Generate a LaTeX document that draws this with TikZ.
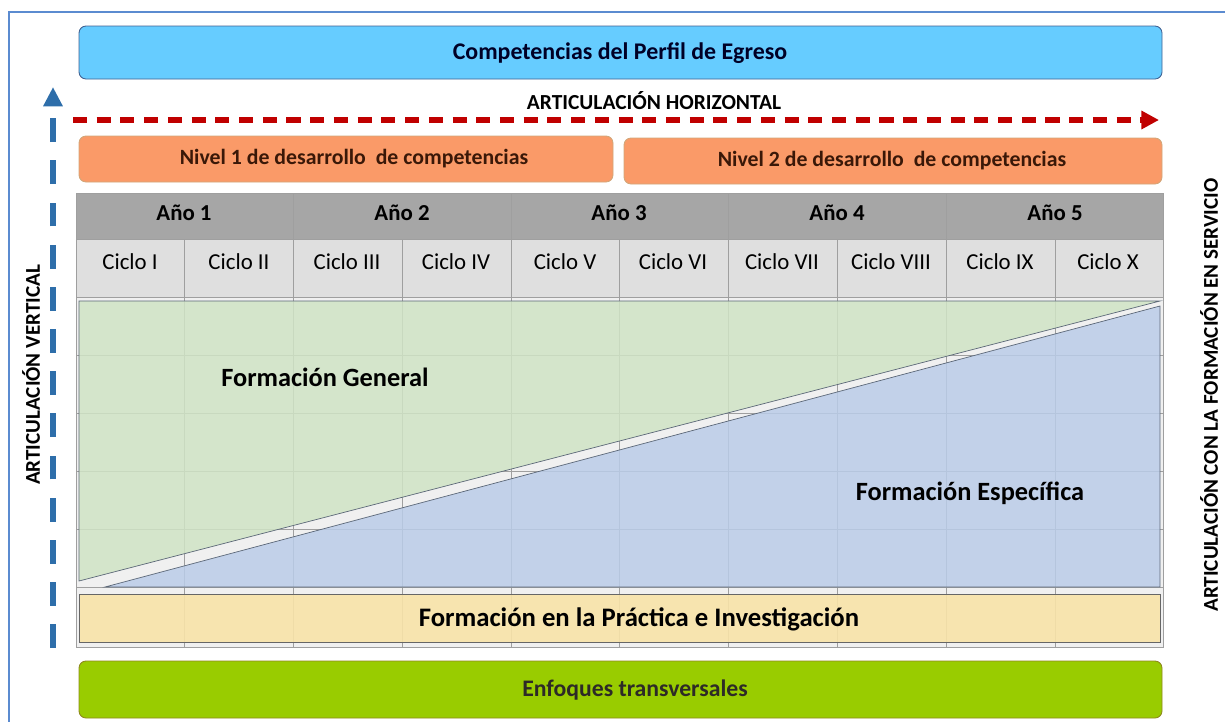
\documentclass[tikz,border=0pt]{standalone}
\usepackage{fontspec}
\setmainfont{Carlito}
\usetikzlibrary{arrows.meta}
\definecolor{marco}{HTML}{5B8BD0}
\definecolor{celeste}{HTML}{66CCFF}
\definecolor{naranja}{HTML}{FA9A68}
\definecolor{lima}{HTML}{99CC00}
\definecolor{verdeclaro}{HTML}{D0E4C5}
\definecolor{azulclaro}{HTML}{BACCE8}
\definecolor{amarillo}{HTML}{F8E3A8}
\definecolor{rojo}{HTML}{C00000}
\definecolor{azulflecha}{HTML}{2E6EAA}
\definecolor{marron}{HTML}{3A1808}
\definecolor{borde}{HTML}{5C6878}
\begin{document}
\begin{tikzpicture}[x=0.02cm,y=-0.02cm,
    caja/.style={rounded corners=4pt,line width=0.5pt},
    rejilla/.style={draw=gray!75,line width=0.4pt},
    titulo/.style={font=\fontsize{12.4}{14}\selectfont\bfseries},
    anio/.style={font=\fontsize{13}{15}\selectfont\bfseries},
    ciclo/.style={font=\fontsize{13}{15}\selectfont},
    grande/.style={font=\fontsize{15}{18}\selectfont\bfseries},
    lateral/.style={font=\fontsize{12}{14}\selectfont\bfseries,rotate=90}]

                \useasboundingbox (0,0) rectangle (1225,721);
                \draw[marco,line width=0.8pt] (9,740) -- (9,12) -- (1240,12);

                \draw[caja,fill=celeste,draw=marco!70!black] (79,26) rectangle (1162,79);
                \node[font=\fontsize{13.6}{16}\selectfont\bfseries,text=black!85!blue] (perfil) at (620,53) {Competencias del Perfil de Egreso};

                \coordinate (hIni) at (73,120);
                \coordinate (hFin) at (1159,120);
                \draw[rojo,line width=3.2pt,dash pattern=on 8pt off 5.5pt,
                  -{Triangle[length=10pt,width=10pt]}] (hIni) -- (hFin);
                \node[font=\fontsize{12.2}{14}\selectfont\bfseries] (horiz) at (654,101) {ARTICULACIÓN HORIZONTAL};

                \draw[caja,fill=naranja,draw=brown!70] (79,136) rectangle (613,182);
                \node[titulo,text=marron] (nivelA) at (354,159) {Nivel 1 de desarrollo\ \ de competencias};
                \draw[caja,fill=naranja,draw=brown!70] (624,138) rectangle (1162,184);
                \node[titulo,text=marron] (nivelB) at (892,161) {Nivel 2 de desarrollo\ \ de competencias};

                \fill[gray!12] (76,193) rectangle (1163,647);
                \fill[gray!70] (76,193) rectangle (1163,239);
                \fill[gray!25] (76,239) rectangle (1163,297);
                \draw[rejilla] (76,193) rectangle (1163,647);
                \draw[rejilla] (76,239) -- (1163,239);
                \draw[rejilla] (76,297) -- (1163,297);
                \draw[rejilla] (76,355) -- (1163,355);
                \draw[rejilla] (76,413) -- (1163,413);
                \draw[rejilla] (76,471) -- (1163,471);
                \draw[rejilla] (76,529) -- (1163,529);
                \draw[rejilla] (76,587) -- (1163,587);
                \draw[rejilla] (293,193) -- (293,647);
                \draw[rejilla] (511,193) -- (511,647);
                \draw[rejilla] (728,193) -- (728,647);
                \draw[rejilla] (946,193) -- (946,647);
                \draw[rejilla] (184,239) -- (184,647);
                \draw[rejilla] (402,239) -- (402,647);
                \draw[rejilla] (619,239) -- (619,647);
                \draw[rejilla] (837,239) -- (837,647);
                \draw[rejilla] (1055,239) -- (1055,647);

                \node[anio] (anioA) at (184,213) {Año 1};
                \node[anio] (anioB) at (402,213) {Año 2};
                \node[anio] (anioC) at (619,213) {Año 3};
                \node[anio] (anioD) at (837,213) {Año 4};
                \node[anio] (anioE) at (1055,213) {Año 5};

                \node[ciclo] (cicloA) at (130,262) {Ciclo I};
                \node[ciclo] (cicloB) at (239,262) {Ciclo II};
                \node[ciclo] (cicloC) at (347,262) {Ciclo III};
                \node[ciclo] (cicloD) at (456,262) {Ciclo IV};
                \node[ciclo] (cicloE) at (565,262) {Ciclo V};
                \node[ciclo] (cicloF) at (673,262) {Ciclo VI};
                \node[ciclo] (cicloG) at (782,262) {Ciclo VII};
                \node[ciclo] (cicloH) at (891,262) {Ciclo VIII};
                \node[ciclo] (cicloI) at (1000,262) {Ciclo IX};
                \node[ciclo] (cicloJ) at (1108,262) {Ciclo X};

                \draw[fill=verdeclaro,fill opacity=0.85,draw=borde,line width=0.4pt]
                  (79,301) -- (1160,301) -- (79,581) -- cycle;
                \draw[fill=azulclaro,fill opacity=0.85,draw=borde,line width=0.4pt]
                  (105,587) -- (1160,306) -- (1160,587) -- cycle;
                \node[grande] (general) at (325,377) {Formación General};
                \node[grande] (especifica) at (970,493) {Formación Específica};

                \draw[fill=amarillo,fill opacity=0.9,draw=gray!80!black,line width=0.4pt] (79,594) rectangle (1160,642);
                \node[font=\fontsize{15.2}{18}\selectfont\bfseries] (practica) at (639,619) {Formación en la Práctica e Investigación};

                \draw[caja,fill=lima,draw=olive!80!gray] (79,661) rectangle (1162,718);
                \node[font=\fontsize{13.5}{16}\selectfont\bfseries,text=black!90!olive] (enfoques) at (635,690) {Enfoques transversales};

                \coordinate (vIni) at (53,648);
                \coordinate (vFin) at (53,87);
                \draw[azulflecha,line width=3.4pt,dash pattern=on 13.5pt off 10.5pt,
                  -{Triangle[length=11pt,width=10.5pt]}] (vIni) -- (vFin);
                \node[lateral] (vertical) at (31,375) {ARTICULACIÓN VERTICAL};
                \node[lateral] (servicio) at (1209,395) {ARTICULACIÓN CON LA FORMACIÓN EN SERVICIO};

            \end{tikzpicture}
\end{document}
